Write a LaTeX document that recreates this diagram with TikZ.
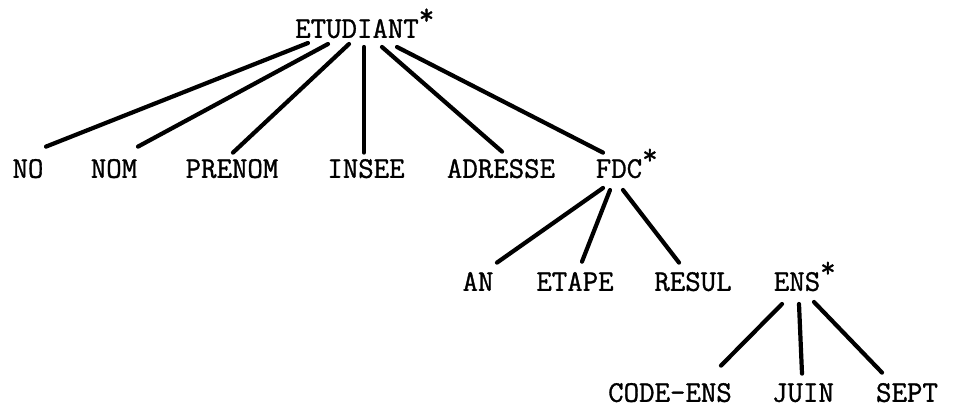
\documentclass[tikz,border=0pt]{standalone}
\usepackage{fontspec}
\setmonofont{Latin Modern Mono}[FakeBold=1.1]
\usetikzlibrary{calc}
\begin{document}
\begin{tikzpicture}[x=1pt,y=-1pt,
  lbl/.style={anchor=south,inner sep=0pt,text height=17pt,text depth=0pt,
    font=\ttfamily\fontsize{30}{32}\selectfont},
  edge/.style={line width=4.2pt,line cap=round}]
\useasboundingbox (0,0) rectangle (977,408);
\newcommand{\stmark}{\rlap{\kern0pt\raisebox{0.45em}{*}}}
% nodes
\node[lbl] (etu) at (357,38) {ETUDIANT\stmark};
\node[lbl] (no) at (28,178) {NO};
\node[lbl] (nom) at (114,178) {NOM};
\node[lbl] (prenom) at (232,178) {PRENOM};
\node[lbl] (insee) at (366,178) {INSEE};
\node[lbl] (adr) at (501,178) {ADRESSE};
\node[lbl] (fdc) at (619,178) {FDC\stmark};
\node[lbl] (an) at (478,291) {AN};
\node[lbl] (etape) at (575,291) {ETAPE};
\node[lbl] (resul) at (693,291) {RESUL};
\node[lbl] (ens) at (797,291) {ENS\stmark};
\node[lbl] (code) at (670,402) {CODE-ENS};
\node[lbl] (juin) at (803,402) {JUIN};
\node[lbl] (sept) at (907,402) {SEPT};
% connectors
\draw[edge] ($(etu.south)+(-49,5)$) -- ($(no.north)+(18,-14)$);
\draw[edge] ($(etu.south)+(-29,6)$) -- ($(nom.north)+(24,-14)$);
\draw[edge] ($(etu.south)+(-8,6)$) -- ($(prenom.north)+(1,-8)$);
\draw[edge] ($(etu.south)+(7,9)$) -- ($(insee.north)+(-2,-8)$);
\draw[edge] ($(etu.south)+(25,9)$) -- ($(adr.north)+(1,-9)$);
\draw[edge] ($(etu.south)+(40,9)$) -- ($(fdc.north)+(-16,-8)$);
\draw[edge] ($(fdc.south)+(-16,10)$) -- ($(an.north)+(19,-11)$);
\draw[edge] ($(fdc.south)+(-9,12)$) -- ($(etape.north)+(7,-12)$);
\draw[edge] ($(fdc.south)+(4,12)$) -- ($(resul.north)+(-14,-11)$);
\draw[edge] ($(ens.south)+(-15,13)$) -- ($(code.north)+(51,-19)$);
\draw[edge] ($(ens.south)+(2,13)$) -- ($(juin.north)+(-1,-11)$);
\draw[edge] ($(ens.south)+(17,11)$) -- ($(sept.north)+(-25,-12)$);
\end{tikzpicture}
\end{document}
